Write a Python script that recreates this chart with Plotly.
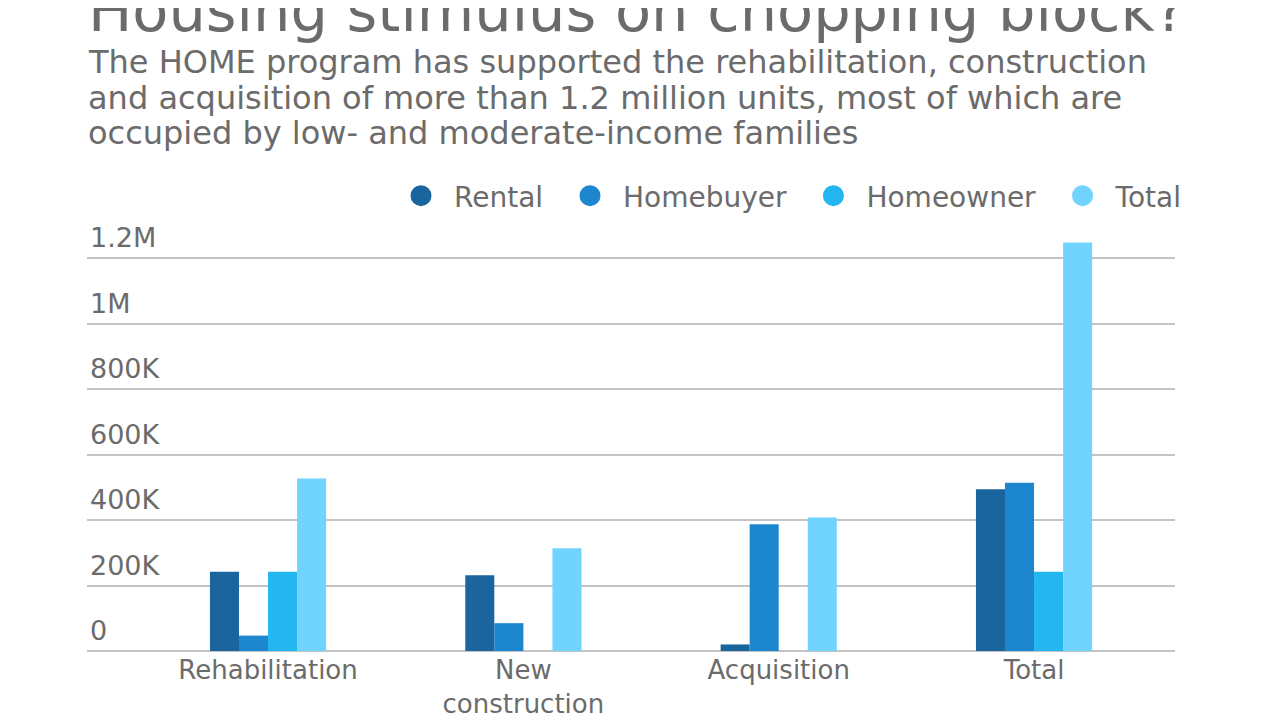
import plotly.graph_objects as go

# ---- data ----
categories = ["Rehabilitation", "New<br>construction", "Acquisition", "Total"]
series_names = ["Rental", "Homebuyer", "Homeowner", "Total"]
rental = [242000, 231000, 20000, 494000]
homebuyer = [47000, 85000, 387000, 514000]
homeowner = [242000, 0, 0, 242000]
total = [527000, 314000, 408000, 1247000]
tick_vals = [0, 200000, 400000, 600000, 800000, 1000000, 1200000]
tick_text = ["0", "200K", "400K", "600K", "800K", "1M", "1.2M"]

title_text = "Housing stimulus on chopping block?"
subtitle_lines = [
    "The HOME program has supported the rehabilitation, construction",
    "and acquisition of more than 1.2 million units, most of which are",
    "occupied by low- and moderate-income families",
]

colors = ["#1a659e", "#1c86cf", "#23b6f0", "#70d4fe"]
FONT = "DejaVu Sans"
TXT = "#6b6b6b"
GRID = "#c4c4c4"

# the page body adds an 8px offset; targets below are in screenshot pixels
OFF = 8
W, H = 1280, 720
PL, PR, PT, PB = 87, 1175, 239, 651          # plot box in screenshot pixels
ML, MR, MT, MB = PL - OFF, W - PR + OFF, PT - OFF, H - PB + OFF
PW, PH = W - ML - MR, H - MT - MB


def px_x(px):
    return (px - OFF - ML) / PW


def px_y(py):
    return (H - MB - (py - OFF)) / PH


fig = go.Figure()
for name, vals, col in zip(series_names, [rental, homebuyer, homeowner, total], colors):
    fig.add_trace(go.Bar(x=categories, y=vals, name=name, marker=dict(color=col, line=dict(width=0)),
                         showlegend=False, legendgroup=name))
for name, col in zip(series_names, colors):
    fig.add_trace(go.Scatter(x=[None], y=[None], mode="markers", name=name + "\u00a0", legendgroup=name,
                             marker=dict(symbol="circle", size=20, color=col, line=dict(color=col, width=5))))

fig.update_layout(
    width=W, height=H,
    margin=dict(l=ML, r=MR, t=MT, b=MB, pad=0, autoexpand=False),
    paper_bgcolor="white", plot_bgcolor="white",
    barmode="group", bargap=0.545, bargroupgap=0,
    font=dict(family=FONT, color=TXT),
    showlegend=True,
    legend=dict(orientation="h", xanchor="right", x=px_x(1196), yanchor="middle", y=px_y(196),
                font=dict(size=28, color=TXT, family=FONT), itemwidth=56, bgcolor="rgba(0,0,0,0)"),
    xaxis=dict(range=[-0.709, 3.552], showgrid=False, zeroline=False, showline=False, automargin=False,
               tickfont=dict(size=26, color=TXT, family=FONT), ticks="", ticklabelstandoff=1,
               fixedrange=True),
    yaxis=dict(range=[0, 1258000], tickvals=tick_vals, ticktext=tick_text, showgrid=True, automargin=False,
               gridcolor=GRID, gridwidth=2, zeroline=True, zerolinecolor=GRID, zerolinewidth=2,
               showline=False, ticks="", ticklabelposition="inside", ticklabelshift=-20,
               ticklabeloverflow="allow",
               tickfont=dict(size=27, color=TXT, family=FONT)),
    annotations=[
        dict(text=title_text, xref="paper", yref="paper", x=px_x(86), y=px_y(31.7 - 0.357 * 59),
             xanchor="left", yanchor="middle", showarrow=False,
             font=dict(size=59, color=TXT, family=FONT)),
    ] + [
        dict(text=line, xref="paper", yref="paper", x=px_x(86), y=px_y(b - 0.357 * 32),
             xanchor="left", yanchor="middle", showarrow=False,
             font=dict(size=32, color=TXT, family=FONT))
        for line, b in zip(subtitle_lines, [73, 109, 144])
    ],
)

fig.write_html("out.html")
